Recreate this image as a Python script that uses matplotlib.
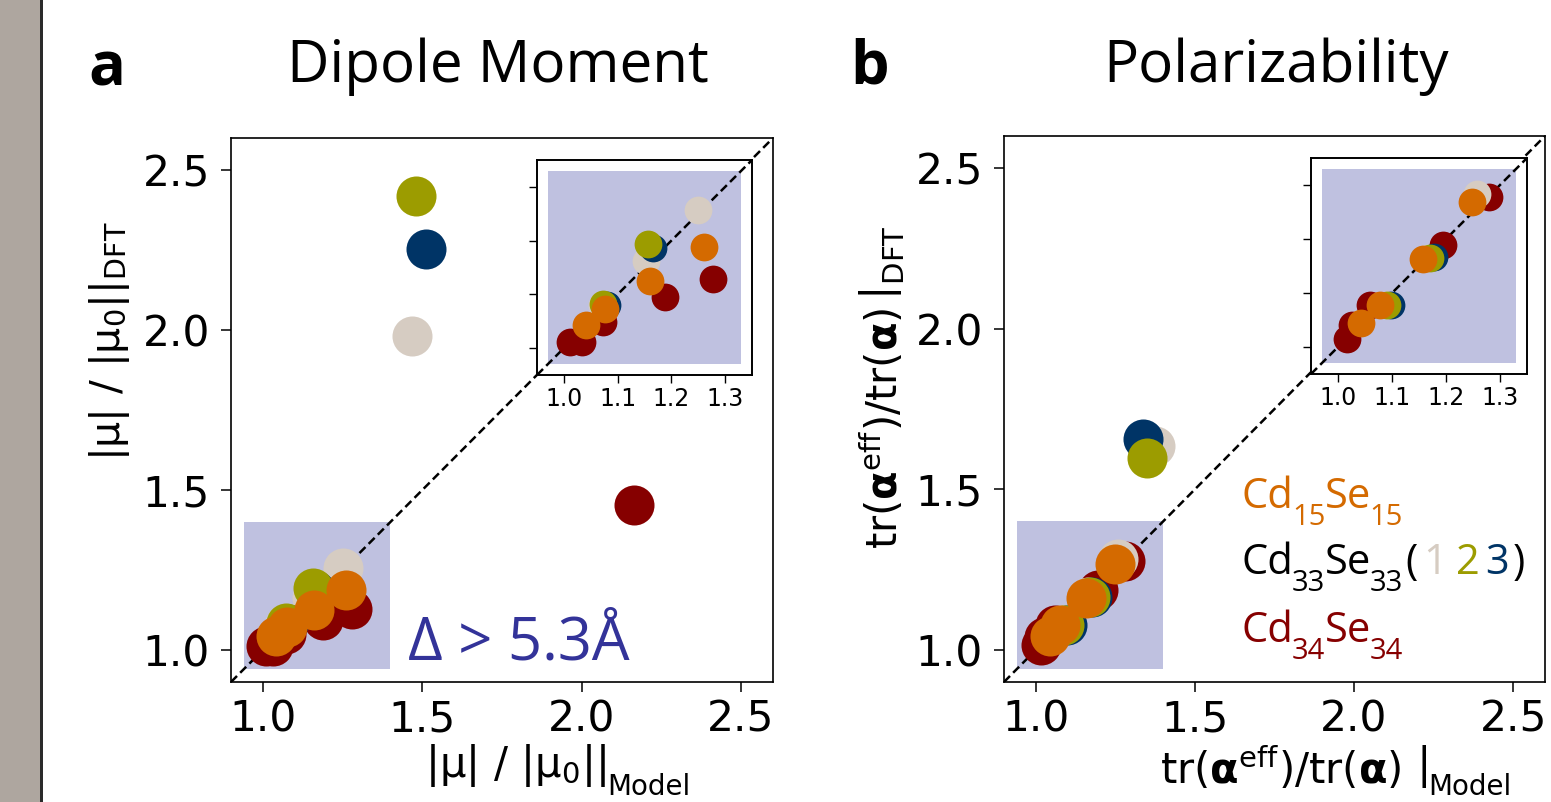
import matplotlib
matplotlib.use("Agg")
import matplotlib.pyplot as plt
from matplotlib.patches import Rectangle

plt.rcParams['font.family'] = ['DejaVu Sans']
plt.rcParams['mathtext.fontset'] = 'custom'
plt.rcParams['mathtext.rm'] = 'DejaVu Sans'
plt.rcParams['mathtext.it'] = 'DejaVu Sans:italic'
plt.rcParams['mathtext.bf'] = 'DejaVu Sans:bold'
plt.rcParams['mathtext.sf'] = 'Open Sans'
plt.rcParams['mathtext.default'] = 'regular'

# ---------------- data ----------------
# Panel a: dipole moment  (x = model, y = DFT)
dip_cd34_x = [1.011, 1.033, 1.073, 1.188, 1.278, 2.163]
dip_cd34_y = [1.012, 1.012, 1.049, 1.095, 1.129, 1.453]
dip_cd33_1_x = [1.070, 1.153, 1.250, 1.469]
dip_cd33_1_y = [1.080, 1.163, 1.257, 1.980]
dip_cd33_2_x = [1.073, 1.156, 1.481]
dip_cd33_2_y = [1.083, 1.193, 2.420]
dip_cd33_3_x = [1.080, 1.165, 1.513]
dip_cd33_3_y = [1.080, 1.186, 2.253]
dip_cd15_x = [1.042, 1.076, 1.161, 1.261]
dip_cd15_y = [1.043, 1.073, 1.124, 1.188]

# Panel b: polarizability
pol_cd34_x = [1.016, 1.025, 1.059, 1.194, 1.280]
pol_cd34_y = [1.015, 1.041, 1.078, 1.188, 1.278]
pol_cd33_1_x = [1.090, 1.165, 1.257, 1.375]
pol_cd33_1_y = [1.077, 1.164, 1.283, 1.635]
pol_cd33_2_x = [1.090, 1.170, 1.349]
pol_cd33_2_y = [1.077, 1.164, 1.597]
pol_cd33_3_x = [1.098, 1.178, 1.338]
pol_cd33_3_y = [1.077, 1.166, 1.656]
pol_cd15_x = [1.043, 1.077, 1.157, 1.249]
pol_cd15_y = [1.044, 1.077, 1.163, 1.268]

main_ticks = [1.0, 1.5, 2.0, 2.5]
main_ticklabels = ['1.0', '1.5', '2.0', '2.5']
inset_ticks = [1.0, 1.1, 1.2, 1.3]
inset_ticklabels = ['1.0', '1.1', '1.2', '1.3']

# ---------------- style ----------------
C_RED = '#860000'
C_BEIGE = '#d6ccc2'
C_OLIVE = '#9c9c00'
C_BLUE = '#003466'
C_ORANGE = '#d46a00'
C_LAV = '#bfc1e0'
C_DELTA = '#333399'
DASH = (0, (3.4, 1.8))
DASH_LW = 1.8

W, H = 1551, 802
fig = plt.figure(figsize=(W / 100, H / 100), dpi=100)


def fx(px):
    return px / W


def fy(py):
    return 1 - py / H


# left gray strip of the original page
fig.patches.append(Rectangle((0, 0), fx(40), 1, transform=fig.transFigure,
                             facecolor='#aea69f', edgecolor='none', zorder=0))
fig.patches.append(Rectangle((fx(40), 0), fx(2.5), 1, transform=fig.transFigure,
                             facecolor='#2a2a2a', edgecolor='none', zorder=0))


def draw_points(ax, data, s):
    for xs, ys, c in data:
        ax.scatter(xs, ys, s=s, color=c, linewidths=0, zorder=3)


def style_main(ax):
    ax.set_xlim(0.9, 2.6)
    ax.set_ylim(0.9, 2.6)
    ax.set_xticks(main_ticks)
    ax.set_xticklabels(main_ticklabels)
    ax.set_yticks(main_ticks)
    ax.set_yticklabels(main_ticklabels)
    ax.tick_params(labelsize=30.5, length=7, width=1.1, pad=5)
    ax.tick_params(axis='y', pad=8)
    for sp in ax.spines.values():
        sp.set_linewidth(1.2)
    ax.add_patch(Rectangle((0.94, 0.94), 0.46, 0.46, facecolor=C_LAV,
                           edgecolor='none', zorder=1))
    ax.axline((1.0, 1.0), slope=1, color='black', lw=DASH_LW,
              linestyle=DASH, zorder=2)


def style_inset(ax):
    ax.set_xlim(0.95, 1.35)
    ax.set_ylim(0.95, 1.35)
    ax.set_xticks(inset_ticks)
    ax.set_xticklabels(inset_ticklabels)
    ax.set_yticks(inset_ticks)
    ax.set_yticklabels([])
    ax.tick_params(labelsize=17, length=5.5, width=1.0, pad=3)
    for sp in ax.spines.values():
        sp.set_linewidth(1.4)
    ax.set_facecolor('white')
    ax.add_patch(Rectangle((0.97, 0.97), 0.36, 0.36, facecolor=C_LAV,
                           edgecolor='none', zorder=1))
    ax.axline((1.0, 1.0), slope=1, color='black', lw=DASH_LW,
              linestyle=DASH, zorder=2)


dip_data = [(dip_cd34_x, dip_cd34_y, C_RED), (dip_cd33_1_x, dip_cd33_1_y, C_BEIGE),
            (dip_cd33_3_x, dip_cd33_3_y, C_BLUE), (dip_cd33_2_x, dip_cd33_2_y, C_OLIVE),
            (dip_cd15_x, dip_cd15_y, C_ORANGE)]
pol_data = [(pol_cd34_x, pol_cd34_y, C_RED), (pol_cd33_1_x, pol_cd33_1_y, C_BEIGE),
            (pol_cd33_3_x, pol_cd33_3_y, C_BLUE), (pol_cd33_2_x, pol_cd33_2_y, C_OLIVE),
            (pol_cd15_x, pol_cd15_y, C_ORANGE)]

MAIN_S = 830
INSET_S = 400

# Panel a
ax_a = fig.add_axes([fx(231), fy(682), fx(773) - fx(231), (682 - 138) / H])
style_main(ax_a)
draw_points(ax_a, dip_data, MAIN_S)
ins_a = fig.add_axes([fx(537), fy(375), fx(752) - fx(537), (375 - 160) / H], zorder=5)
style_inset(ins_a)
draw_points(ins_a, dip_data, INSET_S)

# Panel b
ax_b = fig.add_axes([fx(1004), fy(682), fx(1545) - fx(1004), (682 - 136) / H])
style_main(ax_b)
draw_points(ax_b, pol_data, MAIN_S)
ins_b = fig.add_axes([fx(1311), fy(374), fx(1527) - fx(1311), (374 - 158) / H], zorder=5)
style_inset(ins_b)
draw_points(ins_b, pol_data, INSET_S)

# Titles and panel letters
fig.text(fx(88), fy(86), 'a', fontsize=44, fontweight='bold', family='Open Sans',
         ha='left', va='baseline')
fig.text(fx(850), fy(84), 'b', fontsize=44, fontweight='bold', family='Open Sans',
         ha='left', va='baseline')
fig.text(fx(498), fy(82), 'Dipole Moment', fontsize=42, family='Open Sans',
         ha='center', va='baseline')
fig.text(fx(1276), fy(82), 'Polarizability', fontsize=42, family='Open Sans',
         ha='center', va='baseline')

# Axis labels
lab_dip_y = r'$\left.|\mu|\ /\ |\mu_0|\right|_{\mathrm{DFT}}$'
lab_dip_x = r'$\left.|\mu|\ /\ |\mu_0|\right|$'
lab_pol_y = r'$\left.\mathrm{tr}(\mathbf{\alpha}^{\mathrm{eff}})/\mathrm{tr}(\mathbf{\alpha})\,\right|_{\mathrm{DFT}}$'
lab_pol_x = r'$\left.\mathrm{tr}(\mathbf{\alpha}^{\mathrm{eff}})/\mathrm{tr}(\mathbf{\alpha})\ \right|$'

fig.text(fx(87), fy(461), lab_dip_y, fontsize=29.5, rotation=90, ha='left', va='bottom')
fig.text(fx(857), fy(549), lab_pol_y, fontsize=30, rotation=90, ha='left', va='bottom')
xl_a = fig.text(fx(425), fy(742), lab_dip_x, fontsize=30, ha='left', va='top')
xl_b = fig.text(fx(1160), fy(745), lab_pol_x, fontsize=30, ha='left', va='top')

# Delta annotation
fig.text(fx(408), fy(660), 'Δ > 5.3Å', fontsize=43, family='Open Sans',
         color=C_DELTA, ha='left', va='baseline')

fig.canvas.draw()
renderer = fig.canvas.get_renderer()

# subscripts "Model" just below the x labels (kept inside the figure)
for lab in (xl_a, xl_b):
    x1 = lab.get_window_extent(renderer).x1
    fig.text((x1 + 1) / W, fy(801), 'Model', fontsize=20, ha='left', va='bottom')

# Legend text built from pieces: (text, colour, fontsize, drop_px, gap_px)
LEG_FS = 30
SUB_FS = 21
SUB_DROP = 17


def chain(x0, base, pieces):
    x = x0
    for txt, col, fs, drop, gap in pieces:
        t = fig.text((x + gap) / W, fy(base + drop), txt, fontsize=fs,
                     family='Open Sans', color=col, ha='left', va='baseline')
        x = t.get_window_extent(renderer).x1


def formula(n, col):
    return [('Cd', col, LEG_FS, 0, 0), (n, col, SUB_FS, SUB_DROP, -2),
            ('Se', col, LEG_FS, 0, 0), (n, col, SUB_FS, SUB_DROP, -2)]


chain(1242, 508, formula('15', C_ORANGE))
chain(1242, 574, formula('33', 'black') +
      [('(', 'black', LEG_FS, 0, 3), ('1', C_BEIGE, LEG_FS, 0, 5),
       ('2', C_OLIVE, LEG_FS, 0, 9), ('3', C_BLUE, LEG_FS, 0, 6),
       (')', 'black', LEG_FS, 0, 3)])
chain(1242, 642, formula('34', C_RED))

fig.savefig('out.png', dpi=100)
